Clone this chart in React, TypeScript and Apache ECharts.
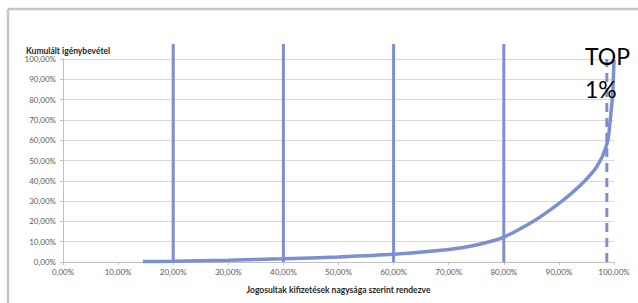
import React, { useEffect, useRef } from "react";
import * as echarts from "echarts";

const curveX = [0.145, 0.2, 0.3, 0.4, 0.5, 0.6, 0.7, 0.75, 0.8, 0.853, 0.908, 0.94, 0.965, 0.974, 0.98, 0.989, 0.995, 0.998, 1.0];
const curveY = [0.002, 0.004, 0.009, 0.016, 0.025, 0.038, 0.062, 0.084, 0.123, 0.199, 0.305, 0.38, 0.455, 0.494, 0.527, 0.601, 0.749, 0.847, 0.995];
const markerX = [0.2, 0.4, 0.6, 0.8];
const markerTop = 1.074;
const topX = 0.987;
const topLineTop = 1.0;
const yTitle = "Kumulált igénybevétel";
const xTitle = "Jogosultak kifizetések nagysága szerint rendezve";
const annotation = ["TOP", "1%"];

const fmt = (v: number) => (v * 100).toFixed(2).replace(".", ",") + "%";

export default function App() {
  const ref = useRef<HTMLDivElement>(null);
  useEffect(() => {
    if (!ref.current) return;
    const chart = echarts.init(ref.current, null, { renderer: "svg" });
    const blue = "#7b8fd1";
    const series: any[] = markerX.map((x) => ({
      type: "line",
      data: [[x, 0], [x, markerTop]],
      clip: false,
      symbol: "none",
      silent: true,
      lineStyle: { color: blue, width: 3 },
    }));
    series.push({
      type: "line",
      data: [[topX, 0], [topX, topLineTop]],
      clip: false,
      symbol: "none",
      lineStyle: { color: blue, width: 3, type: [9, 6] },
    });
    series.push({
      type: "line",
      data: curveX.map((x, i) => [x, curveY[i]]),
      smooth: 0.2,
      clip: false,
      symbol: "none",
      lineStyle: { color: blue, width: 3.5 },
    });
    chart.setOption({
      animation: false,
      backgroundColor: "#ffffff",
      title: {
        text: yTitle,
        left: 21,
        top: 41,
        textStyle: { fontFamily: "Lato", fontSize: 8.5, fontWeight: "bold", color: "#262626" },
      },
      grid: { left: 63, right: 24, top: 59, bottom: 41 },
      xAxis: {
        type: "value",
        min: 0,
        max: 1,
        interval: 0.1,
        name: xTitle,
        nameLocation: "middle",
        nameGap: 23,
        nameTextStyle: { fontFamily: "Lato", fontSize: 8.5, fontWeight: "bold", color: "#262626" },
        axisLine: { show: true, lineStyle: { color: "#bfbfbf", width: 1 } },
        axisTick: { show: true, length: 3, lineStyle: { color: "#bfbfbf" } },
        splitLine: { show: false },
        axisLabel: { formatter: fmt, fontFamily: "Lato", fontSize: 8, color: "#595959", margin: 6 },
      },
      yAxis: {
        type: "value",
        min: 0,
        max: 1,
        interval: 0.1,
        axisLine: { show: true, lineStyle: { color: "#bfbfbf", width: 1 } },
        axisTick: { show: true, length: 3, lineStyle: { color: "#bfbfbf" } },
        splitLine: { show: true, lineStyle: { color: "#d9d9d9", width: 1 } },
        axisLabel: { formatter: fmt, fontFamily: "Lato", fontSize: 8, color: "#595959", margin: 7 },
      },
      graphic: [
        { type: "line", shape: { x1: 8, y1: 9, x2: 8, y2: 303 }, style: { stroke: "#c6c6ca", lineWidth: 2.5 } },
        { type: "line", shape: { x1: 8, y1: 9, x2: 638, y2: 9 }, style: { stroke: "#c6c6ca", lineWidth: 2.5 } },
        {
          type: "text",
          x: 585,
          y: 44,
          z: 10,
          style: { text: annotation[0], fontFamily: "Lato", fontSize: 23, fill: "#000000" },
        },
        {
          type: "text",
          x: 585,
          y: 77,
          z: 10,
          style: { text: annotation[1], fontFamily: "Lato", fontSize: 23, fill: "#000000" },
        },
      ],
      series,
    });
    return () => chart.dispose();
  }, []);
  return (
    <div
      ref={ref}
      style={{ position: "fixed", left: 0, top: 0, width: 638, height: 303 }}
    />
  );
}
